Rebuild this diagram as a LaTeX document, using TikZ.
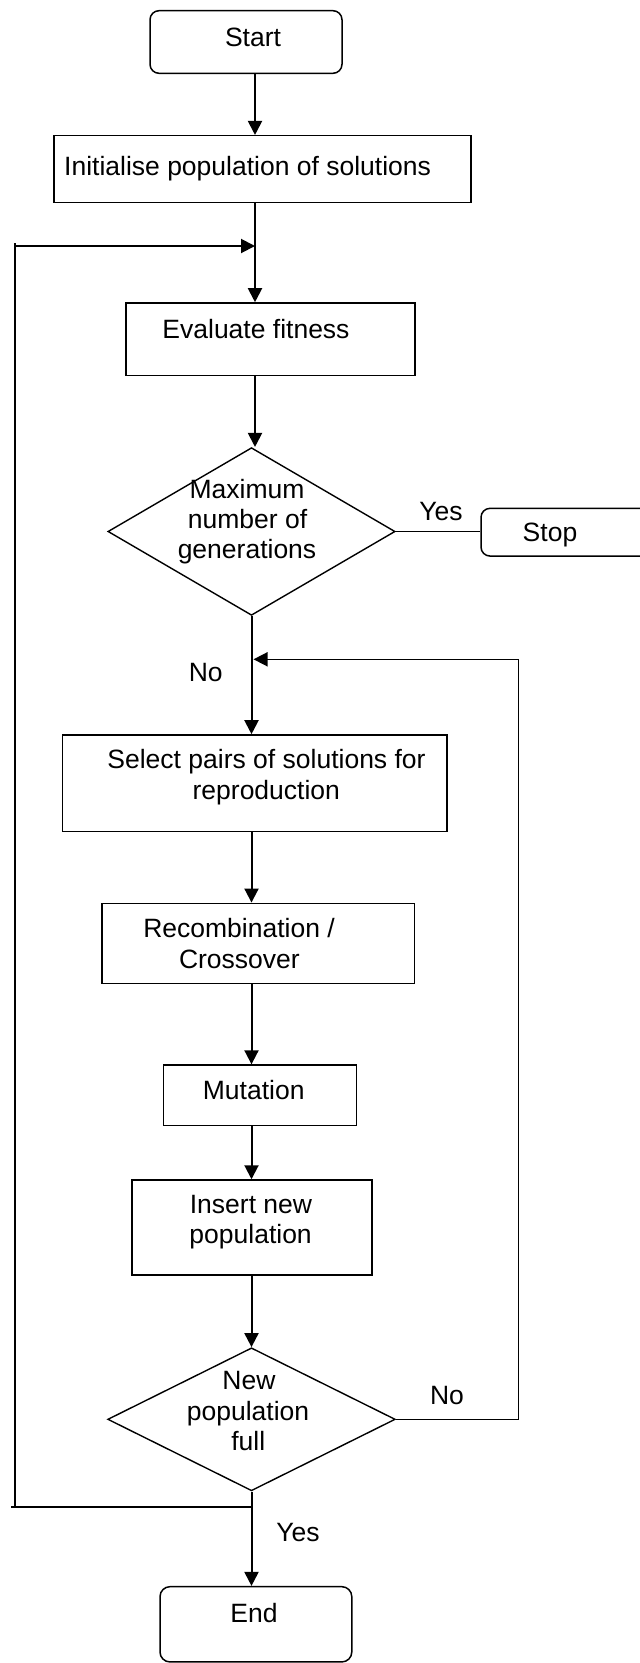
\documentclass[tikz,border=0pt]{standalone}
\usepackage{fontspec}
\setmainfont{Liberation Sans}
\usetikzlibrary{arrows.meta,shapes.geometric}
\begin{document}
\begin{tikzpicture}[x=1pt,y=-1pt,
  box/.style={draw, line width=1.5pt, inner sep=0pt, rectangle},
  term/.style={box, rounded corners=9pt},
  decision/.style={draw, line width=1.4pt, diamond, inner sep=0pt},
  txt/.style={anchor=base, inner sep=0pt, font=\fontsize{26.5}{30}\selectfont},
  flow/.style={line width=2pt, -{Triangle[length=14pt,width=14pt]}},
  link/.style={line width=1.5pt}]

\useasboundingbox (0,0) rectangle (640,1663);
\clip (0,0) rectangle (640,1663);

% spine positions and loop corners
\coordinate (sa) at (255,0);
\coordinate (sb) at (251.5,0);
\coordinate (fbTop) at (15,243);
\coordinate (fbIn) at (15,246);
\coordinate (fbBot) at (15,1507.3);
\coordinate (fbEnd) at (11.4,1507.3);
\coordinate (retCorner) at (518.3,659.3);
\coordinate (retTip) at (253.5,659.3);

% shapes
\node[term, minimum width=192pt, minimum height=62.6pt] (start) at (246,42) {};
\node[box, minimum width=417pt, minimum height=66.6pt] (init) at (262.5,169) {};
\node[box, minimum width=289pt, minimum height=72.7pt] (eval) at (270.5,339.3) {};
\node[decision, minimum width=287.2pt, minimum height=167.7pt] (q1) at (251.5,531.5) {};
\node[term, minimum width=199pt, minimum height=47.7pt] (stop) at (580.5,532.2) {};
\node[box, minimum width=384.6pt, minimum height=96.7pt] (sel) at (254.7,783.3) {};
\node[box, minimum width=312.7pt, minimum height=80pt] (rec) at (258.3,943.3) {};
\node[box, minimum width=192.6pt, minimum height=60.3pt] (mut) at (260,1095.2) {};
\node[box, minimum width=240.4pt, minimum height=95pt] (ins) at (252,1227.5) {};
\node[decision, minimum width=287.6pt, minimum height=143pt] (q2) at (251.5,1419.3) {};
\node[term, rounded corners=10pt, minimum width=191.8pt, minimum height=75.3pt] (end) at (255.9,1624.3) {};

% texts
\node[txt] (tStart) at (253,46) {Start};
\node[txt, anchor=base west] (tInit) at (64,175) {Initialise population of solutions};
\node[txt] (tEval) at (256,338.3) {Evaluate fitness};
\node[txt] (tQ1a) at (247,498.3) {Maximum};
\node[txt] (tQ1b) at (247.5,528.3) {number of};
\node[txt] (tQ1c) at (247,558.3) {generations};
\node[txt] (tYes1) at (441,520) {Yes};
\node[txt] (tStop) at (550,541.7) {Stop};
\node[txt] (tNo1) at (205.7,681.7) {No};
\node[txt] (tSelA) at (266.5,768.3) {Select pairs of solutions for};
\node[txt] (tSelB) at (266.3,799.3) {reproduction};
\node[txt] (tRecA) at (239,937.7) {Recombination /};
\node[txt] (tRecB) at (239.4,968.3) {Crossover};
\node[txt] (tMut) at (253.7,1099.3) {Mutation};
\node[txt] (tInsA) at (251,1213.3) {Insert new};
\node[txt] (tInsB) at (250.6,1243.3) {population};
\node[txt] (tQ2a) at (249,1389.3) {New};
\node[txt] (tQ2b) at (248,1420.7) {population};
\node[txt] (tQ2c) at (248.3,1450) {full};
\node[txt] (tNo2) at (447,1404.3) {No};
\node[txt] (tYes2) at (298,1541.7) {Yes};
\node[txt] (tEnd) at (254,1622.3) {End};

% main flow
\draw[flow] (start.south -| sa) -- (init.north -| sa);
\draw[flow] (init.south -| sa) -- (eval.north -| sa);
\draw[flow] (eval.south -| sa) -- (q1.north -| sa);
\draw[link] (q1.east) -- (q1.east -| stop.west);
\draw[flow] (q1.south) -- (q1.south |- sel.north);
\draw[flow] (sel.south -| sb) -- (rec.north -| sb);
\draw[flow] (rec.south -| sb) -- (mut.north -| sb);
\draw[flow] (mut.south -| sb) -- (ins.north -| sb);
\draw[flow] (ins.south -| sb) -- (q2.north);
\draw[flow] (q2.south) -- (q2.south |- end.north);

% loop back to the fitness evaluation
\draw[line width=2pt] (q2.south |- fbBot) -- (fbEnd);
\draw[line width=2pt] (fbBot) -- (fbTop);
\draw[flow] (fbIn) -- (fbIn -| sa);

% loop back to the selection step
\draw[flow, line width=1.6pt] (q2.east) -| (retCorner) -- (retTip);
\end{tikzpicture}
\end{document}
